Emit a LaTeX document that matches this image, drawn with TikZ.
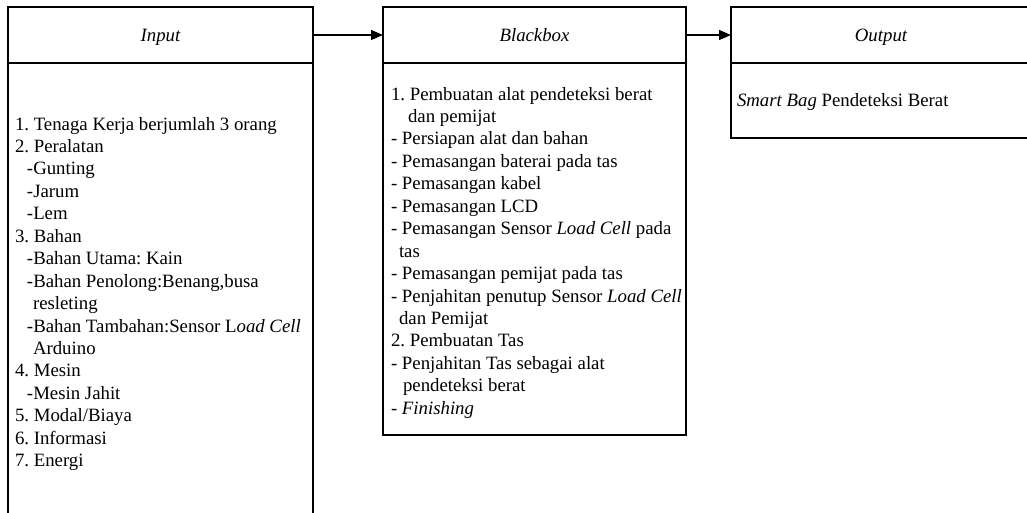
\documentclass[tikz,border=0pt]{standalone}
\usepackage{fontspec}
\setmainfont{Liberation Serif}
\usetikzlibrary{arrows.meta}
\frenchspacing
\begin{document}
\begin{tikzpicture}[x=1pt,y=-1pt,
  box/.style={draw=black, line width=1.1pt, rectangle, inner sep=0pt, outer sep=0pt, anchor=north west},
  headbox/.style={box, minimum height=56pt, font=\fontsize{18.8}{22.45}\selectfont\itshape, text height=12.4pt, text depth=0pt},
  bodytext/.style={anchor=north west, inner sep=0pt, outer sep=0pt, align=left, font=\fontsize{18.8}{22.45}\selectfont},
  arr/.style={line width=1.1pt, -{Triangle[length=12pt,width=10pt]}}]
\useasboundingbox (0,0) rectangle (1027,512);
\clip (0,0) rectangle (1027,512);
% boxes
\node[box, minimum width=305pt, minimum height=470pt] (inbody) at (8,63) {};
\node[headbox, minimum width=305pt] (inhead) at (8,7) {Input};
\node[box, minimum width=303pt, minimum height=372pt] (bbbody) at (383,63) {};
\node[headbox, minimum width=303pt] (bbhead) at (383,7) {Blackbox};
\node[box, minimum width=300pt, minimum height=75pt] (outbody) at (731,63) {};
\node[headbox, minimum width=300pt, text width=291pt, align=center] (outhead) at (731,7) {\hspace*{0pt}Output};
% connectors
\draw[arr] (inhead.east) -- (bbhead.west);
\draw[arr] (bbhead.east) -- (outhead.west);
% texts
\node[bodytext] (intext) at (15,114.3) {\strut 1. Tenaga Kerja berjumlah 3 orang\\
2. Peralatan\\
\hspace*{12pt}-Gunting\\
\hspace*{12pt}-Jarum\\
\hspace*{12pt}-Lem\\
3. Bahan\\
\hspace*{12pt}-Bahan Utama: Kain\\
\hspace*{12pt}-Bahan Penolong:Benang,busa\\
\hspace*{18pt}resleting\\
\hspace*{12pt}-Bahan Tambahan:Sensor L\textit{oad Cell}\\
\hspace*{18pt}Arduino\\
4. Mesin\\
\hspace*{12pt}-Mesin Jahit\\
5. Modal/Biaya\\
6. Informasi\\
7. Energi};
\node[bodytext] (bbtext) at (391,84.3) {\strut 1. Pembuatan alat pendeteksi berat\\
\hspace*{17pt}dan pemijat\\
- Persiapan alat dan bahan\\
- Pemasangan baterai pada tas\\
- Pemasangan kabel\\
- Pemasangan LCD\\
- Pemasangan Sensor \textit{Load Cell} pada\\
\hspace*{8pt}tas\\
- Pemasangan pemijat pada tas\\
- Penjahitan penutup Sensor \textit{Load Cell}\\
\hspace*{8pt}dan Pemijat\\
2. Pembuatan Tas\\
- Penjahitan Tas sebagai alat\\
\hspace*{12pt}pendeteksi berat\\
- \textit{Finishing}};
\node[bodytext] (outtext) at (737,90.8) {\strut\textit{Smart Bag} Pendeteksi Berat};
\end{tikzpicture}
\end{document}
